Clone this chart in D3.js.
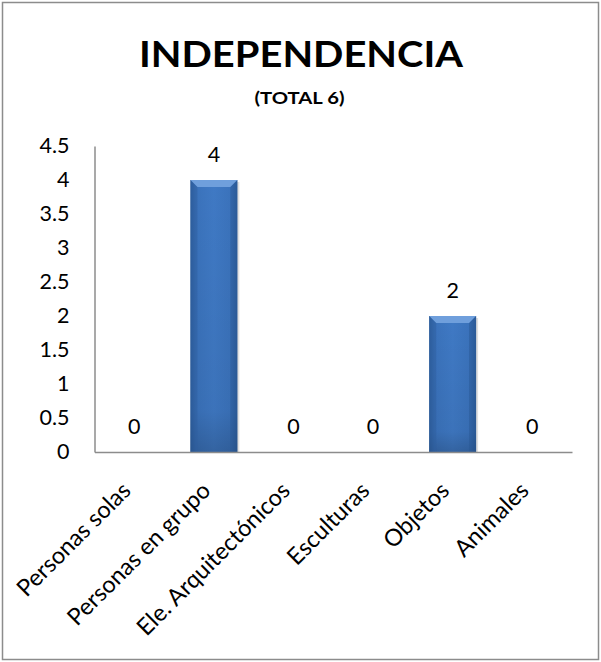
<!DOCTYPE html>
<html>
<head>
<meta charset="utf-8">
<script src="https://cdn.jsdelivr.net/npm/d3@7"></script>
<style>
  html, body { margin: 0; padding: 0; background: #fff; }
  svg { display: block; font-family: Lato, "Open Sans", sans-serif; }
</style>
</head>
<body>
<svg id="chart" width="601" height="662"></svg>
<script>
const categories = ["Personas solas", "Personas en grupo", "Ele. Arquitectónicos", "Esculturas", "Objetos", "Animales"];
const values = [0, 4, 0, 0, 2, 0];
const yTicks = [0, 0.5, 1, 1.5, 2, 2.5, 3, 3.5, 4, 4.5];
const titleText = "INDEPENDENCIA";
const subtitleText = "(TOTAL 6)";

const svg = d3.select("#chart");
const W = 601, H = 662;
const m = { left: 94.5, right: 29, top: 146, bottom: 210 };
const FONT = "Lato, 'Open Sans', sans-serif";

// outer frame
svg.append("rect")
  .attr("x", 2.5).attr("y", 2.5)
  .attr("width", W - 5).attr("height", H - 5)
  .attr("fill", "#fff").attr("stroke", "#8c8c8c").attr("stroke-width", 1.5);

const defs = svg.append("defs");
const grad = defs.append("linearGradient").attr("id", "barGrad")
  .attr("x1", "0").attr("x2", "1").attr("y1", "0").attr("y2", "0");
grad.append("stop").attr("offset", "0").attr("stop-color", "#2c5d9c");
grad.append("stop").attr("offset", "0.12").attr("stop-color", "#3a72bb");
grad.append("stop").attr("offset", "0.5").attr("stop-color", "#3f79c4");
grad.append("stop").attr("offset", "0.88").attr("stop-color", "#3a72bb");
grad.append("stop").attr("offset", "1").attr("stop-color", "#2c5d9c");

const vGrad = defs.append("linearGradient").attr("id", "barShade")
  .attr("x1", "0").attr("x2", "0").attr("y1", "0").attr("y2", "1");
vGrad.append("stop").attr("offset", "0").attr("stop-color", "#000").attr("stop-opacity", 0);
vGrad.append("stop").attr("offset", "0.85").attr("stop-color", "#000").attr("stop-opacity", 0.05);
vGrad.append("stop").attr("offset", "1").attr("stop-color", "#000").attr("stop-opacity", 0.18);

const x = d3.scaleBand()
  .domain(categories)
  .range([m.left, W - m.right])
  .paddingInner(0.41).paddingOuter(0.205);

const y = d3.scaleLinear()
  .domain([0, 4.5])
  .range([H - m.bottom, m.top]);

// title
svg.append("text")
  .attr("x", 301).attr("y", 67)
  .attr("text-anchor", "middle")
  .attr("font-size", 36).attr("font-weight", 700)
  .attr("textLength", 324).attr("lengthAdjust", "spacingAndGlyphs")
  .attr("fill", "#000")
  .text(titleText);
svg.append("text")
  .attr("x", 299.5).attr("y", 104)
  .attr("text-anchor", "middle")
  .attr("font-size", 17).attr("font-weight", 700)
  .attr("textLength", 90).attr("lengthAdjust", "spacingAndGlyphs")
  .attr("fill", "#000")
  .text(subtitleText);

// y axis
const yAxis = svg.append("g")
  .attr("transform", `translate(${m.left},0)`)
  .call(d3.axisLeft(y).tickValues(yTicks).tickSize(0).tickPadding(25).tickFormat(d3.format("")));
yAxis.select(".domain").attr("stroke", "#8c8c8c").attr("stroke-width", 1.5);
yAxis.selectAll("text").attr("font-size", 21.5).attr("fill", "#000")
  .attr("font-family", FONT);

// bars
const bars = svg.append("g");
categories.forEach((c, i) => {
  const v = values[i];
  if (v <= 0) return;
  const bx = x(c), bw = x.bandwidth();
  const by = y(v), bh = y(0) - y(v);
  const g = bars.append("g");
  g.append("rect").attr("x", bx + 2).attr("y", by + 2).attr("width", bw).attr("height", bh - 2)
    .attr("fill", "#000").attr("opacity", 0.12);
  g.append("rect").attr("x", bx).attr("y", by).attr("width", bw).attr("height", bh)
    .attr("fill", "url(#barGrad)");
  g.append("rect").attr("x", bx).attr("y", by).attr("width", bw).attr("height", bh)
    .attr("fill", "url(#barShade)");
  const bev = 7;
  // top bevel
  g.append("path")
    .attr("d", `M${bx},${by} L${bx + bw},${by} L${bx + bw - bev},${by + bev} L${bx + bev},${by + bev} Z`)
    .attr("fill", "#6f9fdc");
  g.append("path")
    .attr("d", `M${bx},${by} L${bx + bev},${by + bev} L${bx + bev},${y(0)} L${bx},${y(0)} Z`)
    .attr("fill", "#2d5e9e").attr("opacity", 0.5);
  g.append("path")
    .attr("d", `M${bx + bw},${by} L${bx + bw - bev},${by + bev} L${bx + bw - bev},${y(0)} L${bx + bw},${y(0)} Z`)
    .attr("fill", "#2a5894").attr("opacity", 0.5);
});

// x axis
const xAxis = svg.append("g")
  .attr("transform", `translate(0,${y(0)})`)
  .call(d3.axisBottom(x).tickSize(0).tickPadding(0));
xAxis.select(".domain").attr("stroke", "#8c8c8c").attr("stroke-width", 1.5);
xAxis.selectAll("text")
  .attr("font-size", 23.5).attr("fill", "#000")
  .attr("font-family", FONT)
  .attr("text-anchor", "end")
  .attr("dy", "0")
  .attr("transform", "translate(-2,40) rotate(-45)");

// value labels
svg.append("g").selectAll("text")
  .data(categories)
  .join("text")
  .attr("x", c => x(c) + x.bandwidth() / 2)
  .attr("y", (c, i) => y(values[i]) - 18)
  .attr("text-anchor", "middle")
  .attr("font-size", 21.5).attr("fill", "#000")
  .text((c, i) => values[i]);
</script>
</body>
</html>
